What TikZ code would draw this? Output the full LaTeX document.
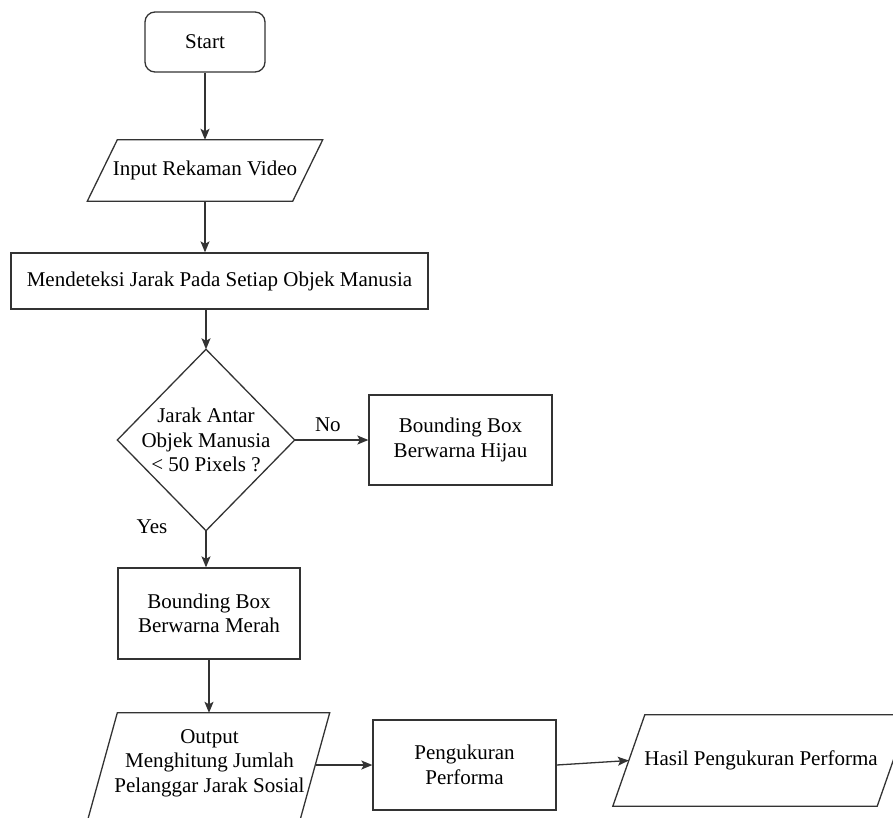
\documentclass[tikz,border=0pt]{standalone}
\usepackage{fontspec}
\setmainfont{Liberation Serif}
\newfontfamily\lserif{Liberation Serif}
\usetikzlibrary{arrows.meta,calc}
\begin{document}
\begin{tikzpicture}[x=1pt,y=-1pt,
  every node/.style={font=\lserif\fontsize{21}{24.5}\selectfont, align=center, inner sep=0pt},
  line/.style={draw=black!80, line width=1.3pt},
  box/.style={line, rectangle},
  txt/.style={rectangle},
  arr/.style={line, -{Stealth[length=11pt,width=9pt,inset=2.5pt]}},
  lbl/.style={font=\lserif\fontsize{21}{24.5}\selectfont}
]
\useasboundingbox (0,0) rectangle (893,817);
\clip (0,0) rectangle (893,817);

% nodes
\node[box, rounded corners=10pt, minimum width=120pt, minimum height=60pt] (start) at (205,42) {Start};
\node[txt, minimum width=205pt, minimum height=61pt] (in) at (205,170.5) {Input Rekaman Video};
\node[box, minimum width=417pt, minimum height=56pt] (mend) at (219.5,281) {Mendeteksi Jarak Pada Setiap Objek Manusia};
\node[txt, minimum width=177pt, minimum height=181pt] (dec) at (206,440) {Jarak Antar\\Objek Manusia\\\textless{} 50 Pixels ?};
\node[box, minimum width=183pt, minimum height=90pt] (hijau) at (460.5,440) {Bounding Box\\Berwarna Hijau};
\node[box, minimum width=182pt, minimum height=91pt] (merah) at (209,613.5) {Bounding Box\\Berwarna Merah};
\node[txt, minimum width=212pt, minimum height=100pt] (out) at (209.5,763) {Output\\Menghitung Jumlah\\Pelanggar Jarak Sosial};
\node[box, minimum width=183pt, minimum height=90pt] (peng) at (464.5,765) {Pengukuran\\Performa};
\node[txt, minimum width=264pt, minimum height=91pt] (hasil) at (761,760.5) {Hasil Pengukuran Performa};

% shapes drawn around text nodes
\draw[line] ([xshift=15pt]in.north west) -- ([xshift=15pt]in.north east)
  -- ([xshift=-15pt]in.south east) -- ([xshift=-15pt]in.south west) -- cycle;
\draw[line] (dec.north) -- (dec.east) -- (dec.south) -- (dec.west) -- cycle;
\draw[line] ([xshift=16pt]hasil.north west) -- ([xshift=16pt]hasil.north east)
  -- ([xshift=-16pt]hasil.south east) -- ([xshift=-16pt]hasil.south west) -- cycle;
\draw[line] ($(out.north west)+(14,0)$) -- ($(out.north east)+(14,0)$)
  -- ($(out.east)+(-22,80)$) -- ($(out.west)+(-22,80)$) -- cycle;

% connectors
\draw[arr] (start.south) -- (in.north);
\draw[arr] (in.south) -- (in.south |- mend.north);
\draw[arr] (dec.north |- mend.south) -- (dec.north);
\draw[arr] (dec.east) -- node[lbl, above=8pt, pos=0.45] (nolbl) {No} (hijau.west);
\draw[arr] (dec.south) -- (dec.south |- merah.north);
\node[lbl] (yeslbl) at (152,527) {Yes};
\draw[arr] (merah.south) -- (merah.south |- out.north);
\coordinate (outr) at ($(out.east)+(0,2)$);
\draw[arr] (outr) -- (outr -| peng.west);
\draw[arr] (peng.east) -- (hasil.west);
\end{tikzpicture}
\end{document}
